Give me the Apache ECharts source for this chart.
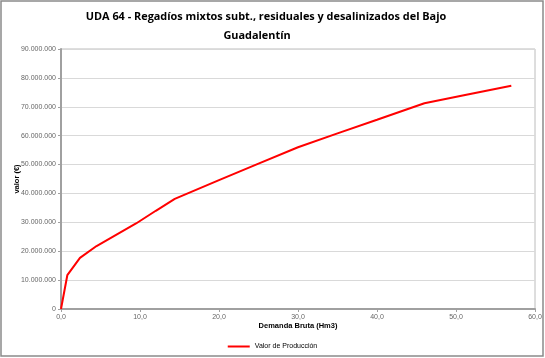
<!DOCTYPE html>
<html><head><meta charset="utf-8">
<script src="https://cdn.jsdelivr.net/npm/echarts@6/dist/echarts.min.js"></script>
<style>html,body{margin:0;padding:0;background:#fff}#c{width:545px;height:358px}</style>
</head><body><div id="c"></div>
<script>
const titleLine1 = 'UDA 64 - Regadíos mixtos subt., residuales y desalinizados del Bajo';
const titleLine2 = 'Guadalentín';
const seriesName = 'Valor de Producción';
const demanda = [0, 0.8, 2.4, 4.5, 9.5, 12.0, 14.4, 20.0, 25.0, 30.0, 35.0, 40.0, 46.0, 51.0, 57.0];
const valor = [0, 11700000, 17700000, 21800000, 29600000, 34000000, 38100000, 44600000, 50300000, 56000000, 60800000, 65500000, 71200000, 74000000, 77300000];
const xName = 'Demanda Bruta (Hm3)';
const yName = 'valor (€)';

function fmtY(v){ return v === 0 ? '0' : String(Math.round(v)).replace(/\B(?=(\d{3})+(?!\d))/g, '.'); }
function fmtX(v){ return v.toFixed(1).replace('.', ','); }

const tStyle = {fontFamily:'Open Sans',fontSize:10.9,fontWeight:'bold',color:'#000'};
const chart = echarts.init(document.getElementById('c'), null, {renderer:'canvas'});
chart.setOption({
  animation:false,
  backgroundColor:'#fff',
  graphic:[
    {type:'rect',shape:{x:1,y:1,width:542,height:355},style:{fill:'none',stroke:'#8a8a8a',lineWidth:1.5},silent:true},
    {type:'text',x:266,y:17,style:Object.assign({text:titleLine1,align:'center',verticalAlign:'middle'},tStyle),silent:true},
    {type:'text',x:257,y:36,style:Object.assign({text:titleLine2,align:'center',verticalAlign:'middle'},tStyle),silent:true}
  ],
  legend:{bottom:3,left:'center',itemWidth:22,itemHeight:2,icon:'rect',itemGap:6,
    data:[seriesName],textStyle:{fontFamily:'Liberation Sans',fontSize:7,color:'#000'}},
  grid:{left:61,right:10,top:49,bottom:49,show:true,borderColor:'#bcbcbc',borderWidth:1},
  xAxis:{type:'value',min:0,max:60,interval:10,name:xName,nameLocation:'middle',nameGap:13,
    nameMoveOverlap:false,
    nameTextStyle:{fontFamily:'Liberation Sans',fontSize:7.5,fontWeight:'bold',color:'#000'},
    axisLine:{lineStyle:{color:'#a0a0a0',width:2}},axisTick:{show:true,length:3,lineStyle:{color:'#a0a0a0'}},
    axisLabel:{formatter:fmtX,fontSize:7,color:'#666',fontFamily:'Liberation Sans',margin:5},
    splitLine:{show:false}},
  yAxis:{type:'value',min:0,max:90000000,interval:10000000,name:yName,nameLocation:'middle',nameGap:40,
    nameMoveOverlap:false,
    nameTextStyle:{fontFamily:'Liberation Sans',fontSize:7.5,fontWeight:'bold',color:'#000'},
    axisLine:{show:true,lineStyle:{color:'#a0a0a0',width:2}},axisTick:{show:true,length:3,lineStyle:{color:'#a0a0a0'}},
    axisLabel:{formatter:fmtY,fontSize:7,color:'#666',fontFamily:'Liberation Sans',margin:5},
    splitLine:{show:true,lineStyle:{color:'#d9d9d9',width:1}}},
  series:[{name:seriesName,type:'line',data:demanda.map((x,i)=>[x,valor[i]]),showSymbol:false,
    lineStyle:{color:'#ff0000',width:2},itemStyle:{color:'#ff0000'}}]
});
</script></body></html>
